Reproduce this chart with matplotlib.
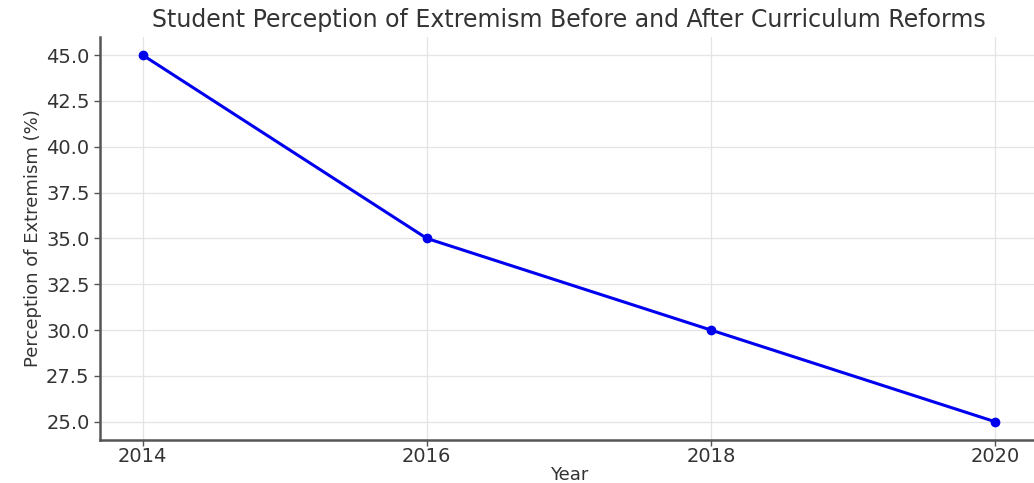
import matplotlib
matplotlib.use("Agg")
import matplotlib.pyplot as plt

years = [2014, 2016, 2018, 2020]
perception = [45.0, 35.0, 30.0, 25.0]


def main():
    fig = plt.figure(figsize=(10.34, 4.83), dpi=100)
    # axes run slightly past the right edge of the figure
    ax = fig.add_axes([0.0967, 0.089, 0.9068, 0.835])

    ax.plot(years, perception, marker="o", color="#0000ee", linewidth=2.2,
            markersize=6)

    ax.set_xticks(years)
    ax.set_yticks([25.0, 27.5, 30.0, 32.5, 35.0, 37.5, 40.0, 42.5, 45.0])
    ax.set_xlim(2013.7, 2020.3)
    ax.set_ylim(24.0, 46.0)

    ax.grid(True, color="#e4e4e4", linewidth=0.9)
    for side in ("top", "right"):
        ax.spines[side].set_visible(False)
    for side in ("left", "bottom"):
        ax.spines[side].set_color("#555555")
        ax.spines[side].set_linewidth(1.8)
    ax.tick_params(colors="#555555", labelcolor="#333333", labelsize=14,
                   length=4, width=1)
    ax.tick_params(axis="x", pad=1)

    ax.set_title("Student Perception of Extremism Before and After Curriculum Reforms",
                 fontsize=17, color="#333333", pad=7)
    ax.set_xlabel("Year", fontsize=13, color="#333333", labelpad=0)
    ax.set_ylabel("Perception of Extremism (%)", fontsize=13, color="#333333",
                  labelpad=3)

    fig.savefig("out.png", dpi=100)


if __name__ == "__main__":
    main()
